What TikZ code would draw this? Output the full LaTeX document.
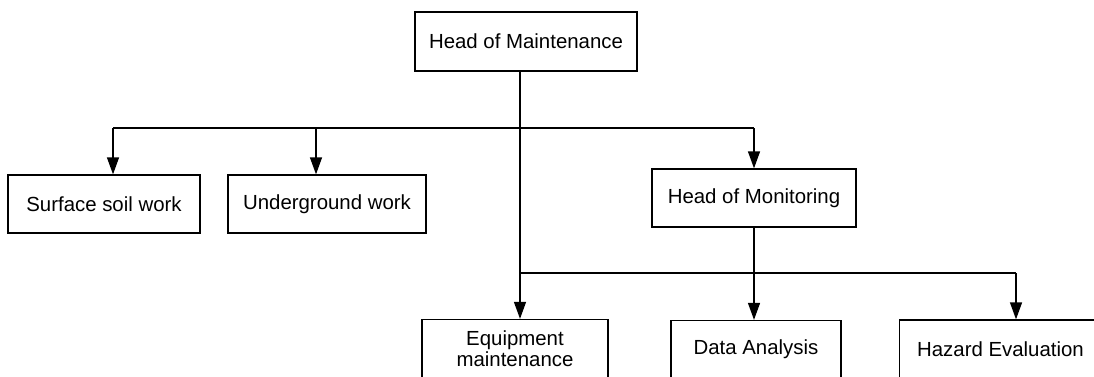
\documentclass[tikz,border=0pt]{standalone}
\usepackage{fontspec}
\setmainfont{Liberation Sans}
\usetikzlibrary{arrows.meta}
\begin{document}
\begin{tikzpicture}[x=1pt, y=-1pt,
  orgfont/.style={font=\fontsize{20.4}{21}\selectfont},
  orgbox/.style={draw, rectangle, inner sep=0pt, line width=1.3pt, align=center, orgfont},
  link/.style={line width=1.3pt},
  feed/.style={line width=1.3pt, -{Triangle[length=17pt, width=12pt]}}]
\useasboundingbox (0,0) rectangle (1094,376);
\clip (0,0) rectangle (1094,376);
\fill[white] (0,0) rectangle (1094,376);

% boxes
\node[orgbox, minimum width=222pt, minimum height=59pt] (hm)   at (526,41.5) {Head of Maintenance};
\node[orgbox, minimum width=192pt, minimum height=58pt] (ssw)  at (104,204)  {Surface soil work};
\node[orgbox, minimum width=198pt, minimum height=58pt] (ug)   at (327,204)  {Underground work};
\node[orgbox, minimum width=204pt, minimum height=58pt] (hmon) at (754,198)  {Head of Monitoring};
\node[orgbox, minimum width=186pt, minimum height=58pt] (eq)   at (515,348.5) {Equipment\\maintenance};
\node[orgbox, minimum width=170pt, minimum height=58pt] (da)   at (756,349.5) {Data Analysis};
\node[orgbox, minimum width=240pt, minimum height=58pt, anchor=west] (hz) at (899,349) {};
\node[orgfont, inner sep=0pt] (hztext) at (1000.5,349.5) {Hazard Evaluation};

% branch points
\coordinate (trunk) at (520,128);
\coordinate (lowj)  at (520,273);
\coordinate (tl)    at (113,128);
\coordinate (tu)    at (316,128);
\coordinate (tm)    at (754,128);
\coordinate (hr)    at (1016,273);

% upper tier
\draw[link] (tl) -- (tm);
\draw[feed] (tl) -- (tl |- ssw.north);
\draw[feed] (tu) -- (tu |- ug.north);
\draw[feed] (tm) -- (hmon.north);

% main trunk down to equipment maintenance
\draw[feed] (hm.south -| trunk) -- (trunk |- eq.north);

% lower tier
\draw[link] (lowj) -- (hr);
\draw[feed] (hmon.south) -- (hmon.south |- da.north);
\draw[feed] (hr) -- (hr |- hz.north);
\end{tikzpicture}
\end{document}
